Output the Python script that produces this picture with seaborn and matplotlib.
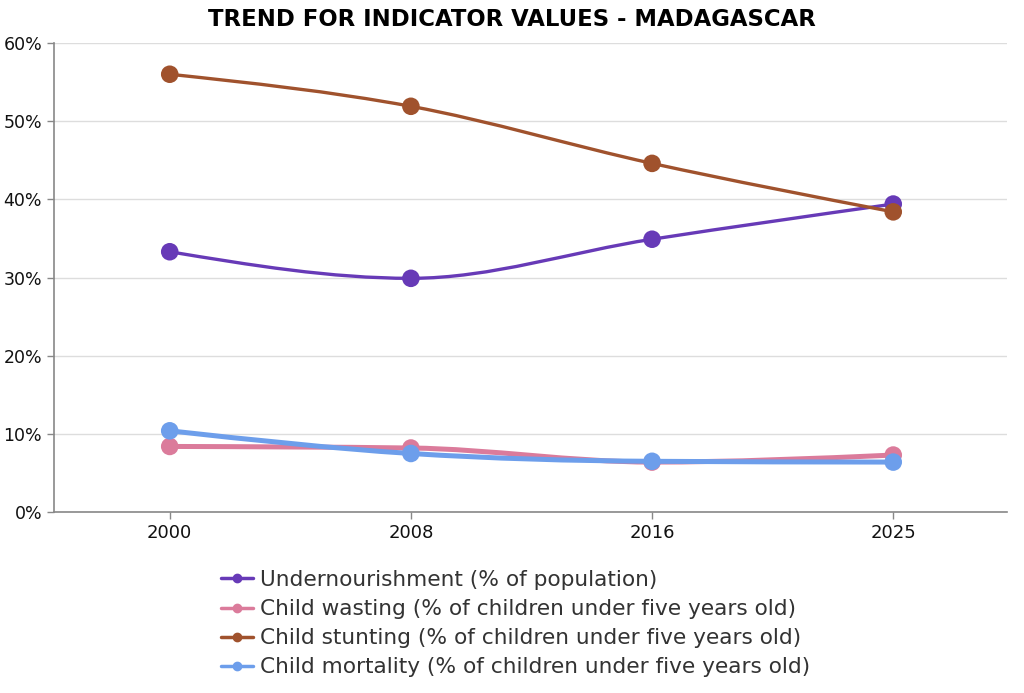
import numpy as np
import pandas as pd
import seaborn as sns
import matplotlib.pyplot as plt
from matplotlib.path import Path
from matplotlib.patches import PathPatch
from matplotlib.lines import Line2D
from matplotlib.ticker import PercentFormatter

# data
years = ["2000", "2008", "2016", "2025"]
undernourishment = [33.3, 29.9, 34.9, 39.4]
child_wasting = [8.4, 8.2, 6.4, 7.3]
child_stunting = [56.0, 51.9, 44.6, 38.4]
child_mortality = [10.4, 7.5, 6.5, 6.4]

labels = [
    "Undernourishment (% of population)",
    "Child wasting (% of children under five years old)",
    "Child stunting (% of children under five years old)",
    "Child mortality (% of children under five years old)",
]
colors = ["#673ab7", "#db7b9b", "#a0522d", "#6d9eeb"]
widths = [2.4, 3.6, 2.4, 3.6]

series = [undernourishment, child_wasting, child_stunting, child_mortality]
df = pd.concat([
    pd.DataFrame({"pos": range(len(years)), "year": years, "value": vals, "indicator": lab})
    for vals, lab in zip(series, labels)
])


def monotone_path(x, y):
    # bezier path like d3 curveMonotoneX, built from the data points
    x = np.asarray(x, float)
    y = np.asarray(y, float)
    n = len(x)
    h = np.diff(x)
    s = np.diff(y) / h
    t = np.zeros(n)
    for i in range(1, n - 1):
        p = (s[i - 1] * h[i] + s[i] * h[i - 1]) / (h[i - 1] + h[i])
        t[i] = (np.sign(s[i - 1]) + np.sign(s[i])) * min(abs(s[i - 1]), abs(s[i]), 0.5 * abs(p))
    t[0] = (3 * s[0] - t[1]) / 2
    t[-1] = (3 * s[-1] - t[-2]) / 2
    verts = [(x[0], y[0])]
    codes = [Path.MOVETO]
    for i in range(n - 1):
        dx = h[i] / 3
        verts += [(x[i] + dx, y[i] + dx * t[i]), (x[i + 1] - dx, y[i + 1] - dx * t[i + 1]), (x[i + 1], y[i + 1])]
        codes += [Path.CURVE4] * 3
    return Path(verts, codes)


sns.set_theme(style="white")
plt.rcParams['font.family'] = ['DejaVu Sans']

fig = plt.figure(figsize=(10.24, 6.93), dpi=100)
ax = fig.add_axes([0.0527, 0.261, 0.9303, 0.677])

for i, lab in enumerate(labels):
    sub = df[df["indicator"] == lab]
    ax.add_patch(PathPatch(monotone_path(sub["pos"], sub["value"]), facecolor="none",
                           edgecolor=colors[i], lw=widths[i], zorder=3 + i, capstyle="round"))
    sns.scatterplot(data=sub, x="pos", y="value", color=colors[i], s=160, edgecolor="none",
                    zorder=3 + i, ax=ax, legend=False)

ax.set_xlim(-0.48, 3.47)
ax.set_ylim(0, 60)
ax.set_xticks(range(len(years)))
ax.set_xticklabels(years)
ax.set_yticks(range(0, 61, 10))
ax.yaxis.set_major_formatter(PercentFormatter(decimals=0))
ax.set_xlabel("")
ax.set_ylabel("")
ax.grid(axis="y", color="#dddddd", lw=1)
ax.set_axisbelow(True)
for side in ["top", "right"]:
    ax.spines[side].set_visible(False)
for side in ["left", "bottom"]:
    ax.spines[side].set_color("#888888")
    ax.spines[side].set_linewidth(1.2)
ax.tick_params(axis="both", which="both", length=5, width=1, color="#888888",
               labelsize=12.5, labelcolor="#111111", bottom=True, left=True)
ax.tick_params(axis="x", labelsize=13)

fig.suptitle("TREND FOR INDICATOR VALUES - MADAGASCAR", fontsize=16.4, fontweight="bold",
             color="black", y=0.989, va="top", x=0.5)

handles = [Line2D([0], [0], color=c, lw=2.5, marker="o", markersize=6) for c in colors]
fig.legend(handles, labels, loc="upper left", bbox_to_anchor=(0.207, 0.19), frameon=False,
           fontsize=15.6, labelcolor="#333333", handlelength=1.5, handletextpad=0.3,
           labelspacing=0.42, borderaxespad=0)

fig.savefig("out.png", dpi=100)
